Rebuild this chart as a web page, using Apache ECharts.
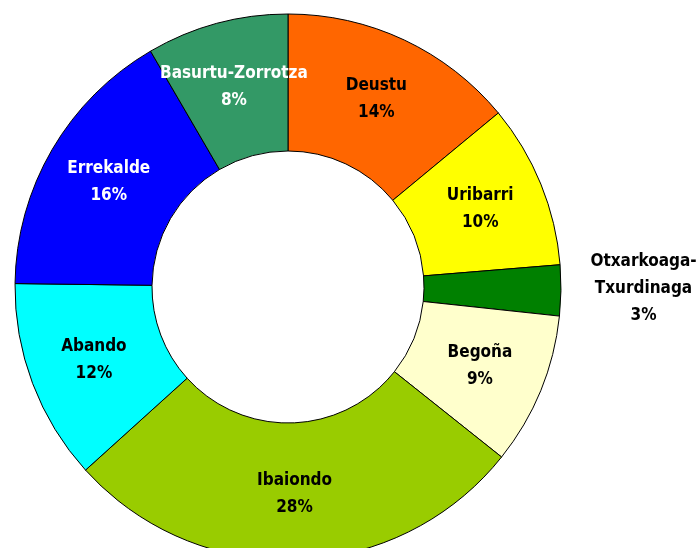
<!DOCTYPE html>
<html>
<head>
<meta charset="utf-8">
<script src="https://cdn.jsdelivr.net/npm/echarts@6/dist/echarts.min.js"></script>
<style>
  html, body { margin: 0; padding: 0; background: #fff; }
  #chart { width: 696px; height: 548px; }
</style>
</head>
<body>
<div id="chart"></div>
<script>
// barrios, clockwise from 12 o'clock
var barrios = ['Deustu', 'Uribarri', 'Otxarkoaga-\nTxurdinaga', 'Begoña', 'Ibaiondo', 'Abando', 'Errekalde', 'Basurtu-Zorrotza'];
var valores = [14.0, 9.7, 3.0, 9.0, 27.6, 11.9, 16.4, 8.4];
var colores = ['#ff6600', '#ffff00', '#008000', '#ffffcc', '#99cc00', '#00ffff', '#0000ff', '#339966'];
var textoBlanco = ['Errekalde', 'Basurtu-Zorrotza'];

var myChart = echarts.init(document.getElementById('chart'));

var datos = barrios.map(function (b, i) {
    var d = {
        name: b,
        value: valores[i],
        itemStyle: { color: colores[i] },
        label: { color: textoBlanco.indexOf(b) >= 0 ? '#ffffff' : '#000000' }
    };
    if (b.indexOf('Otxarkoaga') === 0) {
        // esta etiqueta va fuera del anillo
        d.label.offset = [148, -1];
    }
    return d;
});

var option = {
    animation: false,
    series: [
        {
            type: 'pie',
            center: [288, 287],
            radius: [136, 273],
            startAngle: 90,
            clockwise: true,
            percentPrecision: 0,
            avoidLabelOverlap: false,
            itemStyle: { borderColor: '#000', borderWidth: 1 },
            label: {
                show: true,
                position: 'inside',
                formatter: '{b}\n{d}%',
                fontFamily: '"DejaVu Sans Condensed", sans-serif',
                fontWeight: 'bold',
                fontSize: 17,
                lineHeight: 27,
                align: 'center'
            },
            labelLine: { show: false },
            emphasis: { disabled: true },
            data: datos
        }
    ]
};

myChart.setOption(option);
</script>
</body>
</html>
